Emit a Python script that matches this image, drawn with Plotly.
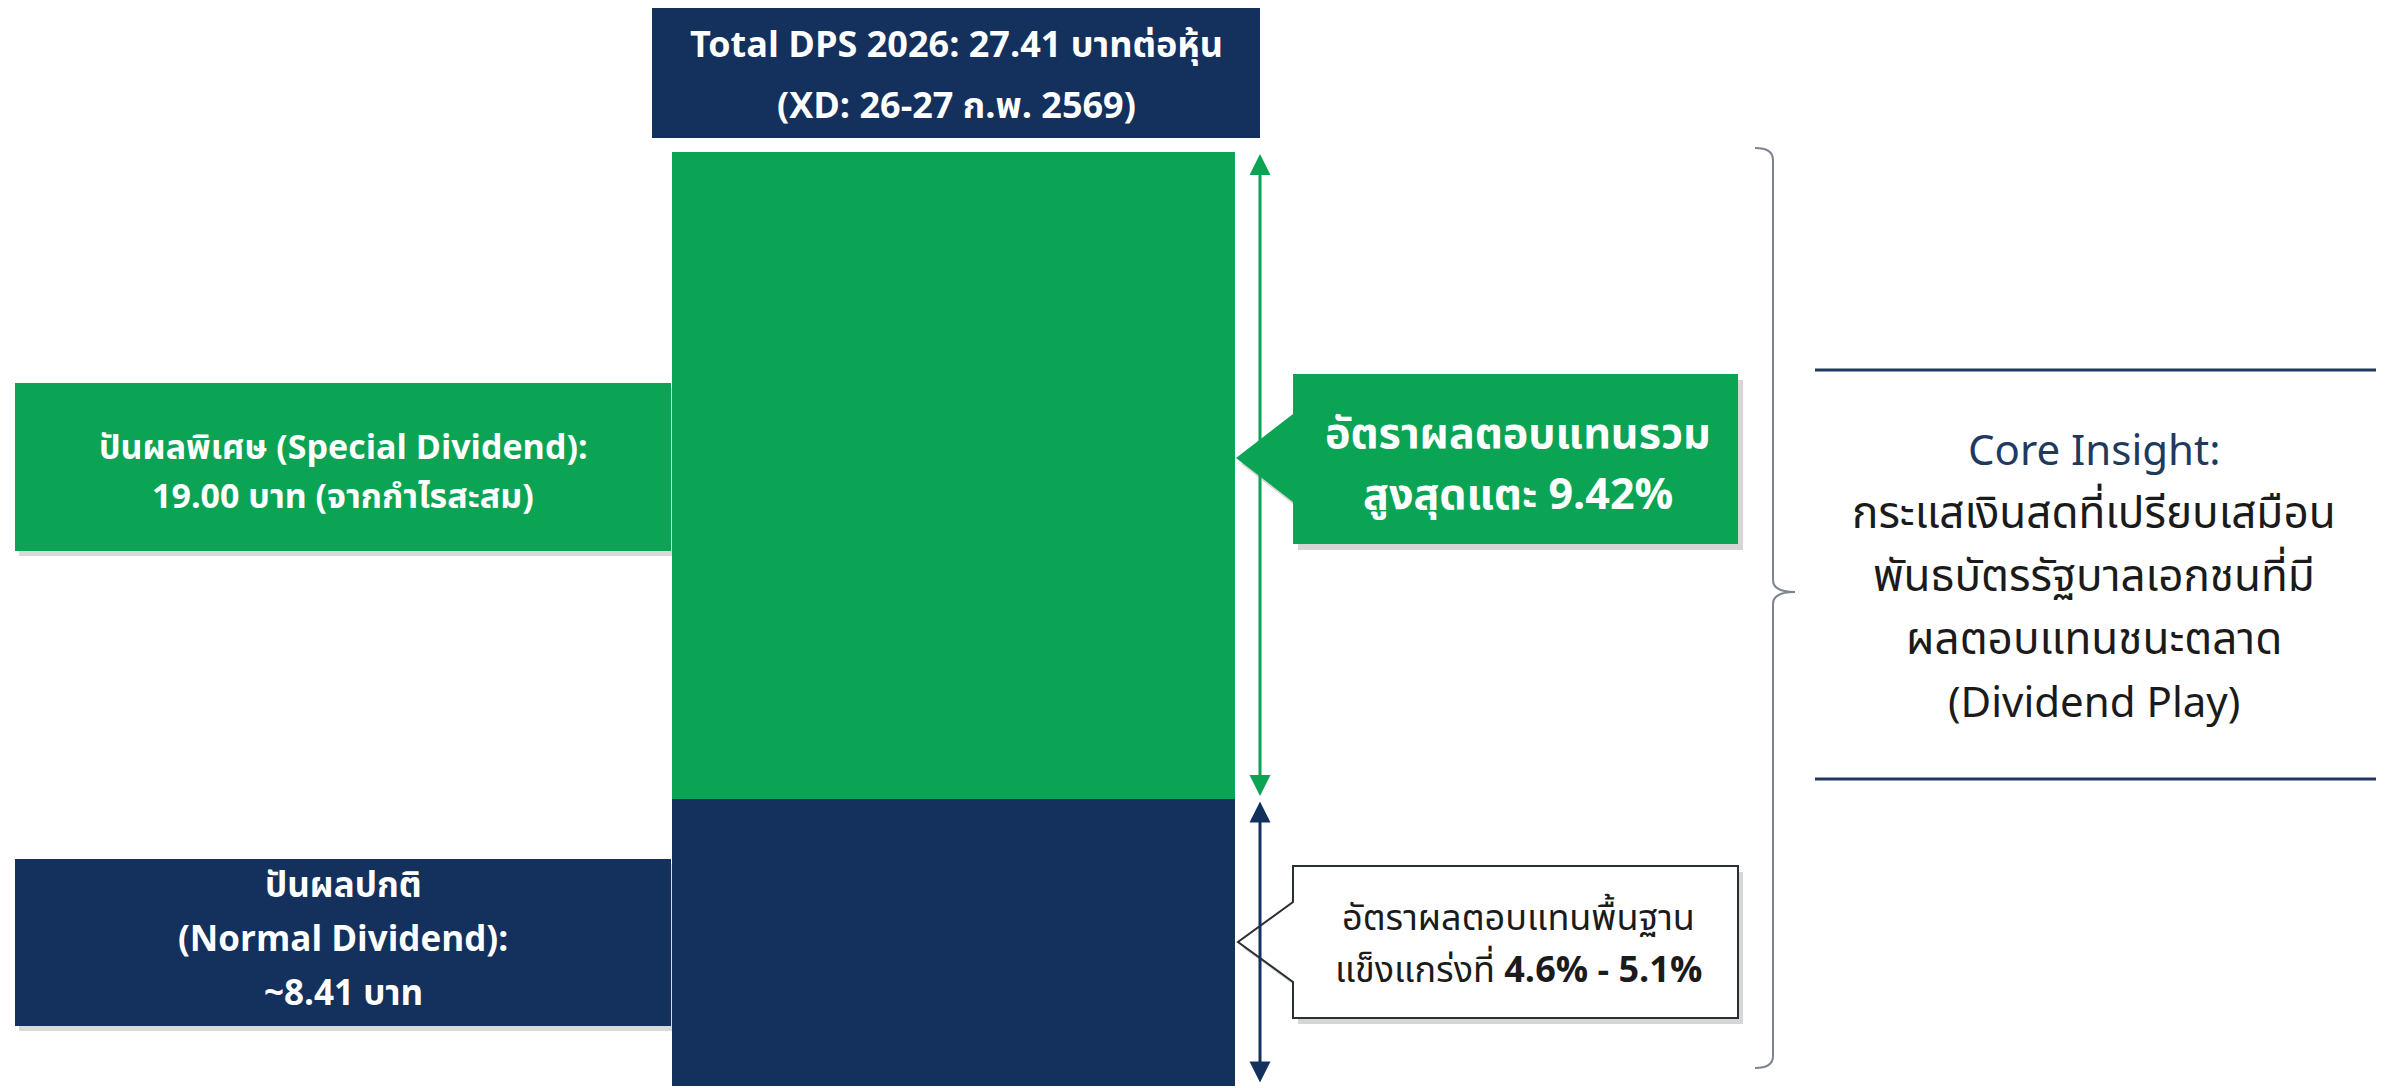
import plotly.graph_objects as go

# ---------------- data ----------------
segment_names = ["ปันผลปกติ (Normal Dividend)", "ปันผลพิเศษ (Special Dividend)"]
segment_values = [8.41, 19.00]          # บาทต่อหุ้น, bottom -> top
segment_colors = ["#14315d", "#0ba454"]
total_dps = 27.41

title_lines = ["Total DPS 2026: 27.41 บาทต่อหุ้น", "(XD: 26-27 ก.พ. 2569)"]
special_lines = ["ปันผลพิเศษ (Special Dividend):", "19.00 บาท (จากกำไรสะสม)"]
normal_lines = ["ปันผลปกติ", "(Normal Dividend):", "~8.41 บาท"]
total_yield_lines = ["อัตราผลตอบแทนรวม", "สูงสุดแตะ 9.42%"]
base_yield_lines = ["อัตราผลตอบแทนพื้นฐาน", "แข็งแกร่งที่ <b>4.6% - 5.1%</b>"]
insight_title = "Core Insight:"
insight_lines = ["กระแสเงินสดที่เปรียบเสมือน", "พันธบัตรรัฐบาลเอกชนที่มี",
                 "ผลตอบแทนชนะตลาด", "(Dividend Play)"]

# ---------------- geometry ----------------
W, H = 2391, 1088
GREEN, NAVY = segment_colors[1], segment_colors[0]
BOLD = "Noto Sans Thai, Noto Sans, DejaVu Sans, sans-serif"
REG = "Noto Sans Thai, Noto Sans, Open Sans, sans-serif"

px_zero, px_top = 1086, 152
scale = (px_zero - px_top) / total_dps
y_min = -(H - px_zero) / scale
y_max = px_zero / scale


def fx(x):
    return x / W


def fy(y):
    return 1 - y / H


def path(points, close=True):
    s = "M " + " L ".join(f"{fx(x):.5f},{fy(y):.5f}" for x, y in points)
    return s + (" Z" if close else "")


fig = go.Figure()
bar_center, bar_width = 953.5, 563
for name, val, col in zip(segment_names, segment_values, segment_colors):
    fig.add_trace(go.Bar(x=[bar_center], y=[val], width=[bar_width], name=name,
                         marker=dict(color=col, line=dict(width=0)),
                         hoverinfo="name+y", showlegend=False))

shapes = []
annotations = []


def rect(x0, y0, x1, y1, fill, line=None, shadow=False):
    if shadow:
        shapes.append(dict(type="rect", xref="paper", yref="paper",
                           x0=fx(x0 + 4), x1=fx(x1 + 4), y0=fy(y0 + 5), y1=fy(y1 + 5),
                           fillcolor="rgba(0,0,0,0.15)", line=dict(width=0), layer="below"))
    shapes.append(dict(type="rect", xref="paper", yref="paper",
                       x0=fx(x0), x1=fx(x1), y0=fy(y0), y1=fy(y1),
                       fillcolor=fill, line=line or dict(width=0), layer="above"))


def text_lines(lines, xc, ys, size, color, family, bold=False):
    for t, y in zip(lines, ys):
        annotations.append(dict(xref="paper", yref="paper", x=fx(xc), y=fy(y),
                                text=(f"<b>{t}</b>" if bold else t), showarrow=False,
                                xanchor="center", yanchor="middle",
                                font=dict(size=size, color=color, family=family)))


# title box
rect(652, 8, 1260, 138, NAVY)
text_lines(title_lines, 956, [46, 107], 36, "white", BOLD, bold=True)

# left label boxes
rect(15, 383, 671, 551, GREEN, shadow=True)
text_lines(special_lines, 343, [448, 497], 34, "white", BOLD, bold=True)
rect(15, 859, 671, 1026, NAVY, shadow=True)
text_lines(normal_lines, 343, [886, 940, 994], 35, "white", BOLD, bold=True)

# callouts
green_call = [(1293, 374), (1738, 374), (1738, 544), (1293, 544), (1293, 502), (1236, 458), (1293, 414)]
white_call = [(1293, 866), (1738, 866), (1738, 1018), (1293, 1018), (1293, 982), (1238, 942), (1293, 902)]
for pts, fill, line in [(green_call, GREEN, dict(width=0)),
                        (white_call, "white", dict(color="#2a2f36", width=2))]:
    shapes.append(dict(type="path", xref="paper", yref="paper",
                       path=path([(x + 5, y + 6) for x, y in pts]),
                       fillcolor="rgba(0,0,0,0.16)", line=dict(width=0), layer="above"))
    shapes.append(dict(type="path", xref="paper", yref="paper", path=path(pts),
                       fillcolor=fill, line=line, layer="above"))
text_lines(total_yield_lines, 1518, [434, 496], 43, "white", BOLD, bold=True)
text_lines(base_yield_lines, 1518, [919, 971], 36, "#1b1b1b", REG)

# brace
bx, bl, br = 1773, 1755, 1795
brace = (f"M {fx(bl)},{fy(148)} Q {fx(bx)},{fy(148)} {fx(bx)},{fy(160)} "
         f"L {fx(bx)},{fy(580)} Q {fx(bx)},{fy(592)} {fx(br)},{fy(592)} "
         f"Q {fx(bx)},{fy(592)} {fx(bx)},{fy(604)} "
         f"L {fx(bx)},{fy(1056)} Q {fx(bx)},{fy(1068)} {fx(bl)},{fy(1068)}")
shapes.append(dict(type="path", xref="paper", yref="paper", path=brace,
                   line=dict(color="#7d848d", width=2)))

# insight block
for yy in (370, 779):
    shapes.append(dict(type="line", xref="paper", yref="paper",
                       x0=fx(1815), x1=fx(2376), y0=fy(yy), y1=fy(yy),
                       line=dict(color="#1f3a5f", width=3)))
text_lines([insight_title], 2094, [452], 42, "#1f3a5f", REG)
text_lines(insight_lines[:3], 2094, [514, 577, 640], 44, "#1b1b1b", REG)
text_lines(insight_lines[3:], 2094, [704], 42, "#1b1b1b", REG)

# dimension arrows, driven by the data
cum = [0]
for v in segment_values:
    cum.append(cum[-1] + v)
arrow_x = 1260
for (lo, hi), col in zip([(cum[0], cum[1]), (cum[1], cum[2])], [NAVY, GREEN]):
    annotations.append(dict(xref="x", yref="y", axref="x", ayref="y",
                            x=arrow_x, y=hi, ax=arrow_x, ay=lo, text="",
                            showarrow=True, arrowhead=2, startarrowhead=2,
                            arrowside="end+start", arrowsize=1.4, startarrowsize=1.4,
                            arrowwidth=3, arrowcolor=col, standoff=2, startstandoff=2))

fig.update_layout(
    width=W, height=H, margin=dict(l=0, r=0, t=0, b=0),
    paper_bgcolor="white", plot_bgcolor="white",
    barmode="stack", bargap=0,
    xaxis=dict(range=[0, W], visible=False, fixedrange=True),
    yaxis=dict(range=[y_min, y_max], visible=False, fixedrange=True),
    shapes=shapes, annotations=annotations, showlegend=False,
)
fig.write_html("out.html", config={"displayModeBar": False},
               post_script="document.body.style.margin='0px';")
